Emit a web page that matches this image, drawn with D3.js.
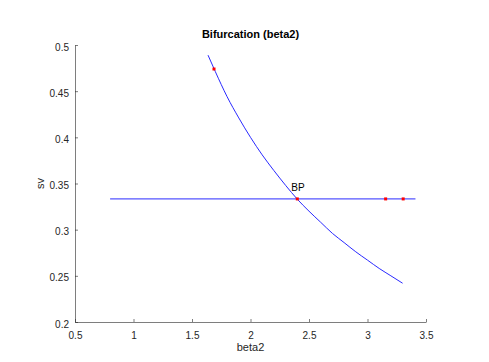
<!DOCTYPE html>
<html><head><meta charset="utf-8">
<script src="https://cdn.jsdelivr.net/npm/d3@7"></script>
<style>body{margin:0;background:#fff}text{font-family:"Liberation Sans",Arial,sans-serif}</style>
</head><body>
<svg id="c" width="489" height="362"></svg>
<script>
const branch1Beta = [1.637, 1.7, 1.8, 1.9, 2.0, 2.1, 2.2, 2.3, 2.4, 2.5, 2.6, 2.7, 2.8, 2.9, 3.0, 3.1, 3.2, 3.3];
const branch1Sv   = [0.489, 0.471, 0.444, 0.421, 0.400, 0.381, 0.364, 0.348, 0.333, 0.320, 0.308, 0.296, 0.286, 0.276, 0.267, 0.258, 0.250, 0.242];
const branch2Beta = [0.8, 3.41];
const branch2Sv   = [0.3333, 0.3333];
const specialBeta = [1.688, 2.4, 3.155, 3.305];
const specialSv   = [0.474, 0.3333, 0.3333, 0.3333];
const bpLabel = {beta: 2.4, sv: 0.3333, text: "BP"};
const xTicks = [0.5, 1, 1.5, 2, 2.5, 3, 3.5];
const yTicks = [0.2, 0.25, 0.3, 0.35, 0.4, 0.45, 0.5];

const svg = d3.select("#c");
const L = 75, R = 426, T = 45, B = 322;
const x = d3.scaleLinear().domain([0.5, 3.5]).range([L, R]);
const y = d3.scaleLinear().domain([0.2, 0.5]).range([B, T]);
const axisCol = "#262626";

const gx = svg.append("g").attr("transform", `translate(0,${B})`)
  .call(d3.axisBottom(x).tickValues(xTicks).tickFormat(d3.format("")).tickSizeInner(-3).tickSizeOuter(0).tickPadding(10));
const gy = svg.append("g").attr("transform", `translate(${L},0)`)
  .call(d3.axisLeft(y).tickValues(yTicks).tickFormat(d3.format("")).tickSizeInner(-3).tickSizeOuter(0).tickPadding(6));
[gx, gy].forEach(g => {
  g.selectAll("path,line").attr("stroke", axisCol).attr("stroke-width", 0.6);
  g.selectAll("text").attr("fill", axisCol).style("font-size", "10px").style("font-family", "'Liberation Sans',Arial,sans-serif");
});
gy.selectAll("text").attr("dy", "0.5em");

const line = d3.line().x(d => x(d[0])).y(d => y(d[1]));
svg.append("path").datum(branch1Beta.map((b, i) => [b, branch1Sv[i]]))
  .attr("d", line.curve(d3.curveMonotoneX)).attr("fill", "none").attr("stroke", "#2a2aff").attr("stroke-width", 1);
svg.append("path").datum(branch2Beta.map((b, i) => [b, branch2Sv[i]]))
  .attr("d", d3.line().x(d => x(d[0])).y(d => y(d[1]))).attr("fill", "none").attr("stroke", "#2a2aff").attr("stroke-width", 1);

svg.selectAll("rect.pt").data(specialBeta.map((b, i) => [b, specialSv[i]])).enter()
  .append("rect").attr("class", "pt")
  .attr("x", d => x(d[0]) - 1.5).attr("y", d => y(d[1]) - 1.5)
  .attr("width", 3).attr("height", 3).attr("fill", "#ff0000");

svg.append("text").attr("x", x(bpLabel.beta) - 6).attr("y", y(bpLabel.sv) - 8)
  .text(bpLabel.text).style("font-size", "10px").attr("fill", "#000");

svg.append("text").attr("x", (L + R) / 2).attr("y", 38).attr("text-anchor", "middle")
  .text("Bifurcation (beta2)").style("font-size", "11px").style("font-weight", "bold").attr("fill", "#000");
svg.append("text").attr("x", (L + R) / 2).attr("y", 351).attr("text-anchor", "middle")
  .text("beta2").style("font-size", "11px").attr("fill", axisCol);
svg.append("text").attr("transform", `translate(44,${(T + B) / 2}) rotate(-90)`).attr("text-anchor", "middle")
  .text("sv").style("font-size", "11px").attr("fill", axisCol);
</script>
</body></html>
